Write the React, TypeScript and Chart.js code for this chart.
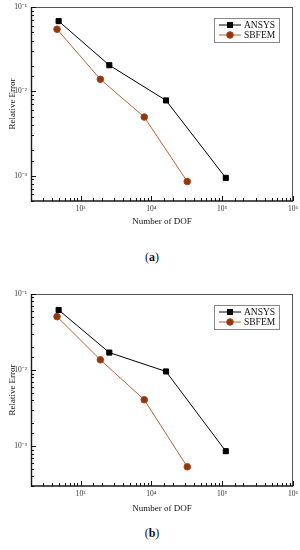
import React, { useEffect, useRef } from 'react';
import { Chart, registerables } from 'chart.js';
Chart.register(...registerables);

const seriesNames = ['ANSYS', 'SBFEM'];
const dofAnsys = [491, 2550, 16100, 112500];
const dofSbfem = [466, 1905, 7940, 32150];
const errAnsysA = [0.068, 0.0204, 0.0078, 0.00094];
const errSbfemA = [0.0545, 0.0139, 0.00495, 0.00085];
const errAnsysB = [0.0617, 0.017, 0.0096, 0.00086];
const errSbfemB = [0.0504, 0.01365, 0.00408, 0.000536];
const xRange = [200, 1e6];
const yRangeA = [5e-4, 0.1];
const yRangeB = [3e-4, 0.1];
const captions = ['a', 'b'];
const xTitle = 'Number of DOF';
const yTitle = 'Relative Error';

const FONT = '"Liberation Serif", "Times New Roman", serif';
const ansysColor = '#000000';
const sbfemLine = '#B5643A';
const sbfemFill = '#8A3A0E';
const sbfemEdge = '#B0401C';

const SUP: Record<string, string> = {
  '-': '\u207B', '0': '\u2070', '1': '\u00B9', '2': '\u00B2', '3': '\u00B3',
  '4': '\u2074', '5': '\u2075', '6': '\u2076', '7': '\u2077', '8': '\u2078', '9': '\u2079',
};
function isPow10(v: number): boolean {
  const e = Math.log10(v);
  return Math.abs(e - Math.round(e)) < 1e-6;
}
function powLabel(v: number): string {
  if (!isPow10(v)) return '';
  const r = Math.round(Math.log10(v));
  return '10' + String(r).split('').map((c) => SUP[c]).join('');
}

const framePlugin = {
  id: 'frameTicksLegend',
  afterDraw(chart: any) {
    const { ctx, chartArea: a, scales } = chart;
    ctx.save();
    ctx.strokeStyle = '#555';
    ctx.lineWidth = 1;
    ctx.beginPath();
    ctx.moveTo(a.left, a.top + 0.5);
    ctx.lineTo(a.right, a.top + 0.5);
    ctx.moveTo(a.right - 0.5, a.top);
    ctx.lineTo(a.right - 0.5, a.bottom);
    ctx.stroke();
    ctx.strokeStyle = '#1a1a1a';
    ctx.lineWidth = 1.4;
    ctx.beginPath();
    ctx.moveTo(a.left + 0.5, a.top);
    ctx.lineTo(a.left + 0.5, a.bottom);
    ctx.lineTo(a.right, a.bottom);
    ctx.stroke();
    ctx.strokeStyle = '#111';
    ctx.lineWidth = 1;
    ctx.beginPath();
    scales.x.ticks.forEach((t: any) => {
      const px = Math.round(scales.x.getPixelForValue(t.value)) + 0.5;
      const len = isPow10(t.value) ? 5 : 3;
      ctx.moveTo(px, a.bottom);
      ctx.lineTo(px, a.bottom - len);
    });
    scales.y.ticks.forEach((t: any) => {
      const py = Math.round(scales.y.getPixelForValue(t.value)) + 0.5;
      const len = isPow10(t.value) ? 5 : 3;
      ctx.moveTo(a.left, py);
      ctx.lineTo(a.left + len, py);
    });
    ctx.stroke();
    const w = 65, h = 24;
    const x0 = a.right - 14 - w;
    const y0 = a.top + 11;
    ctx.fillStyle = '#fff';
    ctx.fillRect(x0, y0, w, h);
    ctx.strokeStyle = '#888';
    ctx.lineWidth = 1;
    ctx.strokeRect(x0 + 0.5, y0 + 0.5, w, h);
    ctx.font = '9.5px ' + FONT;
    ctx.textBaseline = 'middle';
    ctx.textAlign = 'left';
    chart.data.datasets.forEach((ds: any, i: number) => {
      const ry = y0 + 7 + i * 10;
      ctx.strokeStyle = ds.borderColor;
      ctx.lineWidth = 1;
      ctx.beginPath();
      ctx.moveTo(x0 + 5, ry);
      ctx.lineTo(x0 + 27, ry);
      ctx.stroke();
      const mx = x0 + 16;
      if (ds.pointStyle === 'rect') {
        ctx.fillStyle = ds.pointBackgroundColor;
        ctx.fillRect(mx - 3, ry - 3, 6, 6);
      } else {
        ctx.fillStyle = ds.pointBackgroundColor;
        ctx.strokeStyle = ds.pointBorderColor;
        ctx.beginPath();
        ctx.arc(mx, ry, 3.3, 0, Math.PI * 2);
        ctx.fill();
        ctx.stroke();
      }
      ctx.fillStyle = '#111';
      ctx.fillText(ds.label, x0 + 30, ry + 0.5);
    });
    ctx.restore();
  },
};

type PanelProps = {
  top: number;
  height: number;
  xAxisH: number;
  errAnsys: number[];
  errSbfem: number[];
  yRange: number[];
  caption: string;
  captionY: number;
};

function Panel(p: PanelProps) {
  const ref = useRef<HTMLCanvasElement | null>(null);
  useEffect(() => {
    if (!ref.current) return;
    const chart = new Chart(ref.current, {
      type: 'line',
      data: {
        datasets: [
          {
            label: seriesNames[0],
            data: dofAnsys.map((x, i) => ({ x, y: p.errAnsys[i] })),
            borderColor: ansysColor,
            backgroundColor: ansysColor,
            borderWidth: 1,
            pointStyle: 'rect',
            pointRadius: 3.6,
            pointBackgroundColor: ansysColor,
            pointBorderColor: ansysColor,
            pointBorderWidth: 1,
          } as any,
          {
            label: seriesNames[1],
            data: dofSbfem.map((x, i) => ({ x, y: p.errSbfem[i] })),
            borderColor: sbfemLine,
            backgroundColor: sbfemFill,
            borderWidth: 1,
            pointStyle: 'circle',
            pointRadius: 3.3,
            pointBackgroundColor: sbfemFill,
            pointBorderColor: sbfemEdge,
            pointBorderWidth: 1,
          } as any,
        ],
      },
      options: {
        responsive: false,
        animation: false,
        layout: { padding: { top: 7, right: 7, left: 0, bottom: 0 } },
        plugins: { legend: { display: false }, tooltip: { enabled: false } },
        scales: {
          x: {
            type: 'logarithmic',
            min: xRange[0],
            max: xRange[1],
            grid: { display: false, drawTicks: false },
            border: { display: false },
            ticks: {
              autoSkip: false,
              maxRotation: 0,
              padding: 4,
              color: '#333',
              font: { family: FONT, size: 7.5 },
              callback: (v: any) => powLabel(Number(v)),
            },
            title: {
              display: true,
              text: xTitle,
              color: '#111',
              font: { family: FONT, size: 9 },
              padding: { top: 0, bottom: 5 },
            },
            afterFit: (s: any) => {
              s.height = p.xAxisH;
              s.paddingLeft = 0;
              s.paddingRight = 0;
            },
          },
          y: {
            type: 'logarithmic',
            min: p.yRange[0],
            max: p.yRange[1],
            grid: { display: false, drawTicks: false },
            border: { display: false },
            ticks: {
              autoSkip: false,
              padding: 4,
              color: '#333',
              font: { family: FONT, size: 7.5 },
              callback: (v: any) => powLabel(Number(v)),
            },
            title: {
              display: true,
              text: yTitle,
              color: '#111',
              font: { family: FONT, size: 9 },
              padding: { top: 7, bottom: 0 },
            },
            afterFit: (s: any) => {
              s.width = 31;
              s.paddingTop = 0;
              s.paddingBottom = 0;
            },
          },
        },
      } as any,
      plugins: [framePlugin],
    });
    return () => chart.destroy();
  }, []);
  return (
    <>
      <canvas
        ref={ref}
        width={300}
        height={p.height}
        style={{ position: 'absolute', left: 0, top: p.top, display: 'block' }}
      />
      <div
        style={{
          position: 'absolute',
          left: 0,
          width: 304,
          top: p.captionY - 8,
          height: 16,
          lineHeight: '16px',
          textAlign: 'center',
          fontFamily: FONT,
          fontSize: 12,
          color: '#111',
        }}
      >
        (<b style={{ color: '#111' }}>{p.caption}</b>)
      </div>
    </>
  );
}

export default function App() {
  return (
    <div style={{ position: 'absolute', left: 0, top: 0, width: 300, height: 550, background: '#fff', overflow: 'hidden' }}>
      <Panel top={0} height={232} xAxisH={31} errAnsys={errAnsysA} errSbfem={errSbfemA} yRange={yRangeA} caption={captions[0]} captionY={257} />
      <Panel top={287} height={232} xAxisH={33} errAnsys={errAnsysB} errSbfem={errSbfemB} yRange={yRangeB} caption={captions[1]} captionY={533} />
    </div>
  );
}
